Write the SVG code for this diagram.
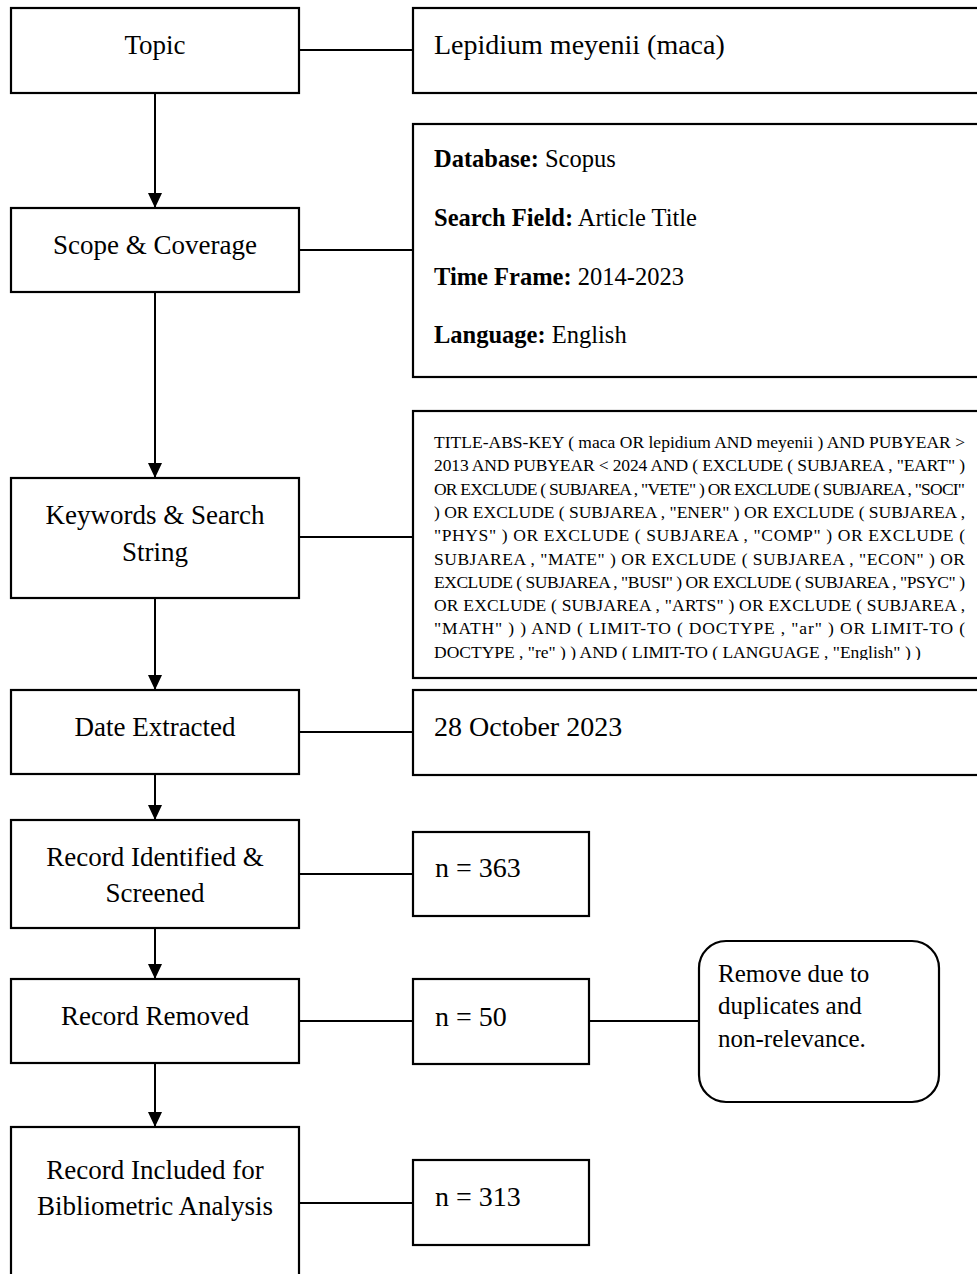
<svg xmlns="http://www.w3.org/2000/svg" width="977" height="1274" viewBox="0 0 977 1274">
<style>
.box{fill:#fff;stroke:#000;stroke-width:2.2}
.lbl{font-family:"Liberation Serif",serif;font-size:27px;fill:#000;text-anchor:middle}
.rt{font-family:"Liberation Serif",serif;font-size:28px;fill:#000}
.sc{font-family:"Liberation Serif",serif;font-size:24.5px;fill:#000}
.sc tspan.b{font-weight:bold}
.q{font-family:"Liberation Serif",serif;font-size:17.5px;fill:#000}
.nt{font-family:"Liberation Serif",serif;font-size:25px;fill:#000}
.ln{stroke:#000;stroke-width:2;fill:none}
</style>
<defs>
<marker id="ah" viewBox="0 0 15 14" refX="15" refY="7" markerWidth="15" markerHeight="14" markerUnits="userSpaceOnUse" orient="auto">
<path d="M0,0 L15,7 L0,14 Z" fill="#000"/>
</marker>
<clipPath id="qclip"><rect x="413" y="411" width="566" height="249"/></clipPath>
</defs>

<g id="connectors">
<line class="ln" x1="155" y1="93" x2="155" y2="208" marker-end="url(#ah)"/>
<line class="ln" x1="155" y1="292" x2="155" y2="478" marker-end="url(#ah)"/>
<line class="ln" x1="155" y1="598" x2="155" y2="690" marker-end="url(#ah)"/>
<line class="ln" x1="155" y1="774" x2="155" y2="820" marker-end="url(#ah)"/>
<line class="ln" x1="155" y1="928" x2="155" y2="979" marker-end="url(#ah)"/>
<line class="ln" x1="155" y1="1063" x2="155" y2="1127" marker-end="url(#ah)"/>
<line class="ln" x1="299" y1="50" x2="413" y2="50"/>
<line class="ln" x1="299" y1="250" x2="413" y2="250"/>
<line class="ln" x1="299" y1="537" x2="413" y2="537"/>
<line class="ln" x1="299" y1="732" x2="413" y2="732"/>
<line class="ln" x1="299" y1="874" x2="413" y2="874"/>
<line class="ln" x1="299" y1="1021" x2="413" y2="1021"/>
<line class="ln" x1="589" y1="1021" x2="699" y2="1021"/>
<line class="ln" x1="299" y1="1203" x2="413" y2="1203"/>
</g>

<g id="topic">
<rect class="box" x="11" y="8" width="288" height="85"/>
<text class="lbl" x="155" y="54">Topic</text>
</g>
<g id="topic-value">
<rect class="box" x="413" y="8" width="570" height="85"/>
<text class="rt" x="434" y="54">Lepidium meyenii (maca)</text>
</g>

<g id="scope">
<rect class="box" x="11" y="208" width="288" height="84"/>
<text class="lbl" x="155" y="254">Scope &amp; Coverage</text>
</g>
<g id="scope-value">
<rect class="box" x="413" y="124" width="570" height="253"/>
<text class="sc" x="434" y="167"><tspan class="b">Database:</tspan> Scopus</text>
<text class="sc" x="434" y="226"><tspan class="b">Search Field:</tspan> Article Title</text>
<text class="sc" x="434" y="285"><tspan class="b">Time Frame:</tspan> 2014-2023</text>
<text class="sc" x="434" y="343"><tspan class="b">Language:</tspan> English</text>
</g>

<g id="keywords">
<rect class="box" x="11" y="478" width="288" height="120"/>
<text class="lbl" x="155" y="524">Keywords &amp; Search</text>
<text class="lbl" x="155" y="561">String</text>
</g>
<g id="keywords-value">
<rect class="box" x="413" y="411" width="570" height="267"/>
<g clip-path="url(#qclip)">
<text class="q" x="434" y="448" textLength="531" lengthAdjust="spacing">TITLE-ABS-KEY ( maca OR lepidium AND meyenii ) AND PUBYEAR &gt;</text>
<text class="q" x="434" y="471.3" textLength="531" lengthAdjust="spacing">2013 AND PUBYEAR &lt; 2024 AND ( EXCLUDE ( SUBJAREA , "EART" )</text>
<text class="q" x="434" y="494.6" textLength="531" lengthAdjust="spacing">OR EXCLUDE ( SUBJAREA , "VETE" ) OR EXCLUDE ( SUBJAREA , "SOCI"</text>
<text class="q" x="434" y="517.9" textLength="531" lengthAdjust="spacing">) OR EXCLUDE ( SUBJAREA , "ENER" ) OR EXCLUDE ( SUBJAREA ,</text>
<text class="q" x="434" y="541.2" textLength="531" lengthAdjust="spacing">"PHYS" ) OR EXCLUDE ( SUBJAREA , "COMP" ) OR EXCLUDE (</text>
<text class="q" x="434" y="564.5" textLength="531" lengthAdjust="spacing">SUBJAREA , "MATE" ) OR EXCLUDE ( SUBJAREA , "ECON" ) OR</text>
<text class="q" x="434" y="587.8" textLength="531" lengthAdjust="spacing">EXCLUDE ( SUBJAREA , "BUSI" ) OR EXCLUDE ( SUBJAREA , "PSYC" )</text>
<text class="q" x="434" y="611.1" textLength="531" lengthAdjust="spacing">OR EXCLUDE ( SUBJAREA , "ARTS" ) OR EXCLUDE ( SUBJAREA ,</text>
<text class="q" x="434" y="634.4" textLength="531" lengthAdjust="spacing">"MATH" ) ) AND ( LIMIT-TO ( DOCTYPE , "ar" ) OR LIMIT-TO (</text>
<text class="q" x="434" y="657.7">DOCTYPE , "re" ) ) AND ( LIMIT-TO ( LANGUAGE , "English" ) )</text>
</g>
</g>

<g id="date">
<rect class="box" x="11" y="690" width="288" height="84"/>
<text class="lbl" x="155" y="736">Date Extracted</text>
</g>
<g id="date-value">
<rect class="box" x="413" y="690" width="570" height="85"/>
<text class="rt" x="434" y="736">28 October 2023</text>
</g>

<g id="identified">
<rect class="box" x="11" y="820" width="288" height="108"/>
<text class="lbl" x="155" y="866">Record Identified &amp;</text>
<text class="lbl" x="155" y="902">Screened</text>
</g>
<g id="identified-value">
<rect class="box" x="413" y="832" width="176" height="84"/>
<text class="rt" x="435" y="877">n = 363</text>
</g>

<g id="removed">
<rect class="box" x="11" y="979" width="288" height="84"/>
<text class="lbl" x="155" y="1025">Record Removed</text>
</g>
<g id="removed-value">
<rect class="box" x="413" y="979" width="176" height="85"/>
<text class="rt" x="435" y="1026">n = 50</text>
</g>
<g id="removed-note">
<rect class="box" x="699" y="941" width="240" height="161" rx="27" ry="27"/>
<text class="nt" x="718" y="982">Remove due to</text>
<text class="nt" x="718" y="1014">duplicates and</text>
<text class="nt" x="718" y="1047">non-relevance.</text>
</g>

<g id="included">
<rect class="box" x="11" y="1127" width="288" height="170"/>
<text class="lbl" x="155" y="1179">Record Included for</text>
<text class="lbl" x="155" y="1215">Bibliometric Analysis</text>
</g>
<g id="included-value">
<rect class="box" x="413" y="1160" width="176" height="85"/>
<text class="rt" x="435" y="1206">n = 313</text>
</g>
</svg>
